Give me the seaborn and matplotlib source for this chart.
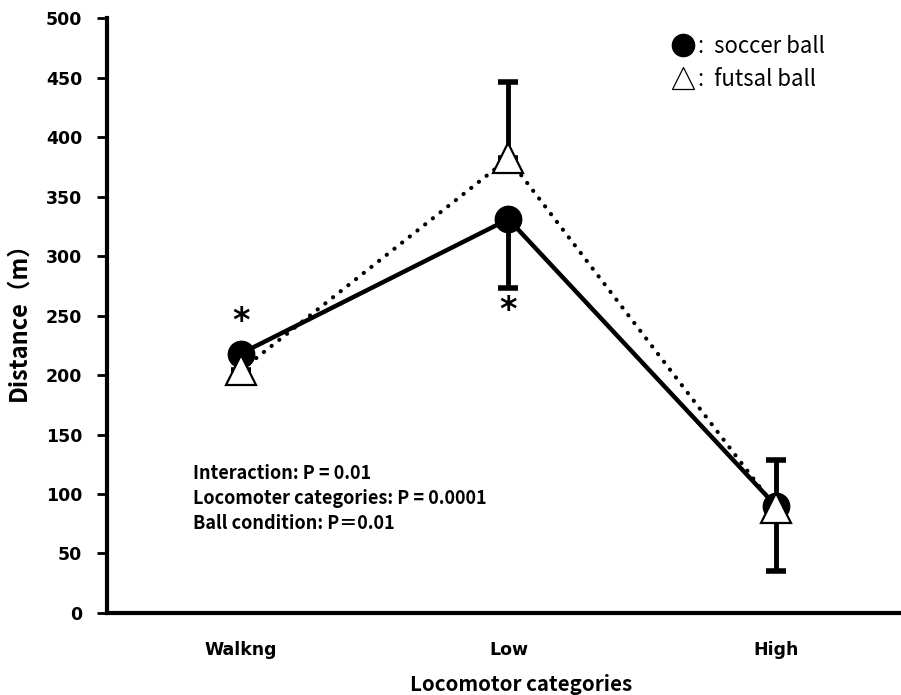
import matplotlib
matplotlib.use("Agg")
import matplotlib.pyplot as plt
import seaborn as sns
import pandas as pd
import numpy as np
from matplotlib.lines import Line2D

categories = ["Walkng", "Low", "High"]
soccer = [218, 331, 90]
futsal = [204, 382, 88]
soccer_err_down = [np.nan, 58, 55]
futsal_err_up = [np.nan, 64, 41]
yticks = [0, 50, 100, 150, 200, 250, 300, 350, 400, 450, 500]

sns.set_theme(style="white")
plt.rcParams["font.family"] = ["Noto Sans CJK JP", "DejaVu Sans"]
plt.rcParams["text.color"] = "black"
plt.rcParams["axes.labelcolor"] = "black"
plt.rcParams["xtick.color"] = "black"
plt.rcParams["ytick.color"] = "black"

fig = plt.figure(figsize=(9.01, 6.95), dpi=100)
ax = fig.add_axes([0.1188, 0.118, 0.8812, 0.856])

x = np.arange(len(categories))
df = pd.DataFrame({"x": list(x) * 2, "y": soccer + futsal,
                   "ball": ["soccer"] * 3 + ["futsal"] * 3})

# futsal dotted line
sns.lineplot(data=df[df.ball == "futsal"], x="x", y="y", ax=ax, color="black",
             lw=3, linestyle=(0, (0.05, 2.3)), dash_capstyle="round", zorder=2)
# soccer solid line
sns.lineplot(data=df[df.ball == "soccer"], x="x", y="y", ax=ax, color="black",
             lw=3.2, zorder=3)

# error bars (one-sided)
ax.errorbar(x, soccer, yerr=[soccer_err_down, [0, 0, 0]], fmt="none",
            ecolor="black", elinewidth=3.5, capsize=7.5, capthick=4, zorder=1)
ax.errorbar(x, futsal, yerr=[[0, 0, 0], futsal_err_up], fmt="none",
            ecolor="black", elinewidth=3.5, capsize=7.5, capthick=4, zorder=1)

# markers
ax.plot(x, soccer, "o", color="black", markersize=19, zorder=4)
ax.plot(x, futsal, "^", markerfacecolor="white", markeredgecolor="black",
        markersize=21, markeredgewidth=1.6, zorder=5)

# significance asterisks
ax.text(0, 245, "*", ha="center", va="center", fontsize=24, fontweight="bold",
        family=["DejaVu Sans"], color="black")
ax.text(1, 254, "*", ha="center", va="center", fontsize=24, fontweight="bold",
        family=["DejaVu Sans"], color="black")

ax.set_xlim(-0.5, 2.467)
ax.set_ylim(0, 500)
ax.set_yticks(yticks)
ax.set_xticks(x)
ax.set_xticklabels(categories)
for lab in ax.get_yticklabels() + ax.get_xticklabels():
    lab.set_fontweight("bold")
    lab.set_fontsize(12.5)
    lab.set_family(["DejaVu Sans"])
ax.tick_params(axis="y", direction="out", length=7, width=2, pad=11, left=True)
ax.tick_params(axis="x", length=0, pad=20)

for s in ["top", "right"]:
    ax.spines[s].set_visible(False)
for s in ["left", "bottom"]:
    ax.spines[s].set_linewidth(3)
    ax.spines[s].set_color("black")

ax.set_xlabel("Locomotor categories", fontsize=14.8, fontweight="bold")
ax.xaxis.set_label_coords((521 - 107) / 794, -0.103)
ax.set_ylabel("Distance（m）", fontsize=17, fontweight="bold")
ax.yaxis.set_label_coords((30 - 107) / 794, (613 - 316) / 595)

ax.text(0.108, 0.25, "Interaction: P = 0.01\nLocomoter categories: P = 0.0001\nBall condition: P＝0.01",
        transform=ax.transAxes, fontsize=13, fontweight="bold",
        va="top", ha="left", linespacing=1.4)

handles = [Line2D([], [], marker="o", color="black", linestyle="none", markersize=16),
           Line2D([], [], marker="^", markerfacecolor="white", markeredgecolor="black",
                  linestyle="none", markersize=16, markeredgewidth=0.9)]
fig.legend(handles, [":  soccer ball", ":  futsal ball"], loc="upper left",
           bbox_to_anchor=(670 / 901, 1 - 35 / 695), frameon=False, fontsize=16,
           handletextpad=0.05, handlelength=1.2, labelspacing=0.45,
           borderpad=0, borderaxespad=0)

fig.savefig("out.png", dpi=100)
